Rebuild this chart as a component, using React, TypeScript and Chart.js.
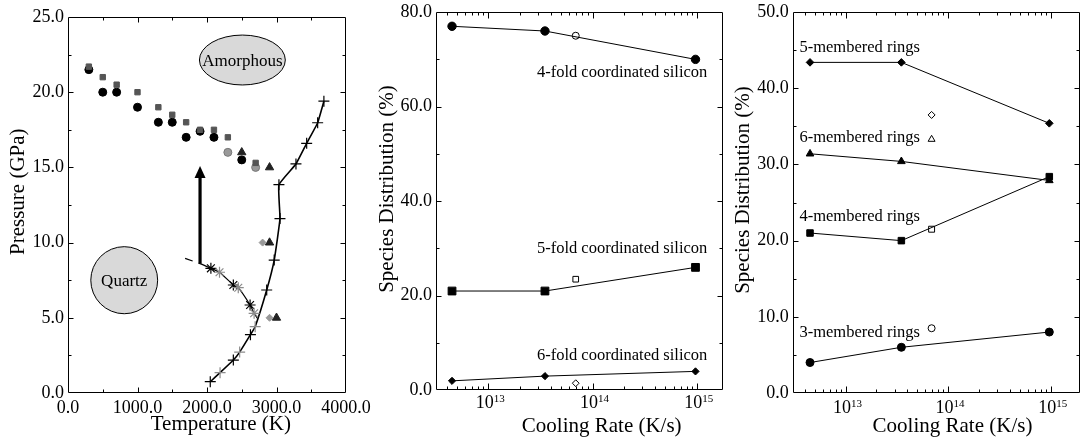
import React, { useEffect, useRef } from 'react';
import { Chart, registerables } from 'chart.js';
Chart.register(...registerables);

const W = 1086;
const H = 442;
const FONT = '"Liberation Serif", "Times New Roman", Times, serif';

// ---------------- Panel 1 data: Pressure (GPa) vs Temperature (K) ----------------
const p1BlackCircles = [[300, 21.5], [500, 20], [700, 20], [1000, 19], [1300, 18], [1500, 18], [1700, 17], [1900, 17.4], [2100, 17], [2500, 15.5]];
const p1GraySquares = [[300, 21.7], [500, 21], [700, 20.5], [1000, 20], [1300, 19], [1500, 18.5], [1700, 18], [1900, 17.5], [2100, 17.5], [2300, 17], [2700, 15.3]];
const p1GrayCircles = [[2300, 16], [2700, 15]];
const p1BlackTriangles = [[2500, 16], [2900, 15], [2900, 10], [3000, 5]];
const p1GrayDiamonds = [[2800, 10], [2900, 5]];
const p1MeltT = [2047, 2188, 2379, 2470, 2625, 2693, 2859, 2967, 3050, 3035, 3280, 3434, 3592, 3682];
const p1MeltP = [0.75, 1.35, 2.19, 2.72, 3.88, 4.41, 6.85, 8.84, 11.6, 13.85, 15.23, 16.6, 17.97, 19.4];
const p1MeltShade = ['k', 'g', 'k', 'g', 'k', 'g', 'k', 'k', 'k', 'k', 'k', 'k', 'k', 'k'];
const p1StarT = [1685, 1900, 2056, 2180, 2379, 2450, 2620, 2678, 2724];
const p1StarP = [8.95, 8.6, 8.29, 8.03, 7.18, 7.0, 5.85, 5.3, 4.97];
const p1StarShade = ['', '', 'k', 'g', 'k', 'g', 'k', 'g', ''];
const p1ArrowT = 1900;
const p1ArrowFromP = 8.6;
const p1ArrowToP = 15.1;
const p1Regions = [
  { label: 'Amorphous', T: 2509, P: 22.14, rT: 618, rP: 1.66 },
  { label: 'Quartz', T: 809, P: 7.5, rT: 481, rP: 2.23 },
];

// ---------------- Panel 2 data: coordination vs cooling rate ----------------
const coolingRates = [4.5e12, 3.5e13, 9.7e14];
const openRate = 6.9e13;
const fourFold = [77, 76, 70];
const fourFoldOpen = 75;
const fiveFold = [21, 21, 26];
const fiveFoldOpen = 23.5;
const sixFold = [2, 3, 4];
const sixFoldOpen = 1.5;
const p2Labels = ['4-fold coordinated silicon', '5-fold coordinated silicon', '6-fold coordinated silicon'];
const p2LabelRate = 2.93e13;
const p2LabelY = [66.2, 29.0, 6.5];

// ---------------- Panel 3 data: ring distribution vs cooling rate ----------------
const ring5 = [43.4, 43.4, 35.4];
const ring5Open = 36.5;
const ring6 = [31.4, 30.4, 27.9];
const ring6Open = 33.3;
const ring4 = [21, 20, 28.4];
const ring4Open = 21.5;
const ring3 = [4, 6, 8];
const ring3Open = 8.5;
const p3Labels = ['5-membered rings', '6-membered rings', '4-membered rings', '3-membered rings'];
const p3LabelRate = 3.55e12;
const p3LabelY = [44.7, 32.9, 22.6, 7.4];

const decadeTicks = [1e13, 1e14, 1e15];

const pairs = (a: number[][]) => a.map(([x, y]) => ({ x, y }));
const zip = (xs: number[], ys: number[]) => xs.map((x, i) => ({ x, y: ys[i] }));

const shade = (s: string) => (s === 'g' ? '#8c8c8c' : '#000');

function makeFrame(cfg: { xMajor?: number; yMajor: number; xLog?: boolean }) {
  return {
    id: 'frame',
    beforeDatasetsDraw(chart: any) {
      const { ctx, chartArea: a, scales } = chart;
      const L = Math.round(a.left) + 0.5;
      const R = Math.round(a.right) - 0.5;
      const T = Math.round(a.top) + 0.5;
      const B = Math.round(a.bottom) - 0.5;
      ctx.save();
      ctx.strokeStyle = '#000';
      ctx.lineWidth = 1;
      ctx.beginPath();
      ctx.rect(L, T, R - L, B - T);
      for (const t of scales.x.ticks) {
        const v = t.value;
        let major = false;
        if (cfg.xLog) {
          const e = Math.floor(Math.log10(v) + 1e-9);
          const m = v / Math.pow(10, e);
          if (Math.abs(m - Math.round(m)) > 1e-6) continue;
          major = Math.round(m) === 1;
        } else {
          const q = v / (cfg.xMajor as number);
          major = Math.abs(q - Math.round(q)) < 1e-6;
        }
        const px = Math.round(scales.x.getPixelForValue(v)) + 0.5;
        if (px <= L + 0.6 || px >= R - 0.6) continue;
        const len = major ? (cfg.xLog ? 6 : 5) : 3;
        ctx.moveTo(px, B); ctx.lineTo(px, B - len);
        ctx.moveTo(px, T); ctx.lineTo(px, T + len);
      }
      for (const t of scales.y.ticks) {
        const v = t.value;
        const q = v / cfg.yMajor;
        const major = Math.abs(q - Math.round(q)) < 1e-6;
        const py = Math.round(scales.y.getPixelForValue(v)) + 0.5;
        if (py <= T + 0.6 || py >= B - 0.6) continue;
        const len = major ? 5 : 3;
        ctx.moveTo(L, py); ctx.lineTo(L + len, py);
        ctx.moveTo(R, py); ctx.lineTo(R - len, py);
      }
      ctx.stroke();
      ctx.restore();
    },
  };
}

function makeDeco(draw: (chart: any) => void) {
  return { id: 'deco', afterDraw(chart: any) { draw(chart); } };
}

function drawTitles(ctx: CanvasRenderingContext2D, yTitle: string, yx: number, yy: number, xTitle: string, xx: number, xy: number) {
  ctx.save();
  ctx.fillStyle = '#000';
  ctx.font = `21px ${FONT}`;
  ctx.textAlign = 'center';
  ctx.textBaseline = 'alphabetic';
  ctx.fillText(xTitle, xx, xy);
  ctx.translate(yx, yy);
  ctx.rotate(-Math.PI / 2);
  ctx.fillText(yTitle, 0, 0);
  ctx.restore();
}

function drawDecadeLabels(chart: any, baselineOffset: number) {
  const { ctx, chartArea: a, scales } = chart;
  ctx.save();
  ctx.fillStyle = '#000';
  ctx.textBaseline = 'alphabetic';
  ctx.textAlign = 'left';
  for (const v of decadeTicks) {
    const px = scales.x.getPixelForValue(v);
    const exp = String(Math.round(Math.log10(v)));
    ctx.font = `18px ${FONT}`;
    const w1 = ctx.measureText('10').width;
    ctx.font = `11px ${FONT}`;
    const w2 = ctx.measureText(exp).width;
    const x0 = px - (w1 + w2) / 2 + 2;
    const by = a.bottom + baselineOffset;
    ctx.font = `18px ${FONT}`;
    ctx.fillText('10', x0, by);
    ctx.font = `11px ${FONT}`;
    ctx.fillText(exp, x0 + w1, by - 6.5);
  }
  ctx.restore();
}

const tickFont = { family: FONT, size: 18, lineHeight: 0.9 };
const xTickFont = { family: FONT, size: 18, lineHeight: 1.2 };
const hidden = { display: false, drawTicks: false };

function yAxis(min: number, max: number, step: number, major: number) {
  return {
    type: 'linear',
    min, max,
    afterFit: (s: any) => { s.width = 40; },
    grid: hidden,
    border: { display: false },
    ticks: {
      stepSize: step,
      autoSkip: false,
      padding: 4,
      color: '#000',
      font: tickFont,
      callback: (v: number) => (Math.abs(v / major - Math.round(v / major)) < 1e-6 ? v.toFixed(1) : ''),
    },
  };
}

function logXAxis(min: number, max: number) {
  return {
    type: 'logarithmic',
    min, max,
    afterFit: (s: any) => { s.height = 40; },
    grid: hidden,
    border: { display: false },
    ticks: { autoSkip: false, maxRotation: 0, callback: () => '', font: xTickFont },
  };
}

const baseOptions = (padding: any) => ({
  animation: false,
  responsive: false,
  devicePixelRatio: 1,
  layout: { padding },
  plugins: { legend: { display: false }, tooltip: { enabled: false } },
});

function marker(data: any[], style: string, r: number, fill: string, stroke = '#000', bw = 1) {
  return {
    data, showLine: false, pointStyle: style, pointRadius: r,
    pointBackgroundColor: fill, pointBorderColor: stroke, pointBorderWidth: bw,
  };
}

function line(data: any[], style: string, r: number) {
  return {
    data, showLine: true, borderColor: '#000', borderWidth: 1, tension: 0,
    pointStyle: style, pointRadius: r, pointBackgroundColor: '#000', pointBorderColor: '#000', pointBorderWidth: 1,
  };
}

function makeP1() {
  return {
    type: 'scatter',
    data: {
      datasets: [
        {
          data: zip(p1StarT, p1StarP), showLine: true, borderColor: '#000', borderWidth: 1.2, tension: 0.15,
          segment: { borderDash: (c: any) => (c.p0DataIndex === 0 ? [8, 6] : undefined) },
          pointStyle: 'star', pointRadius: p1StarShade.map((s) => (s ? 5.5 : 0)),
          pointBorderColor: p1StarShade.map(shade), pointBorderWidth: 1.2,
        },
        {
          data: zip(p1MeltT, p1MeltP), showLine: true, borderColor: '#000', borderWidth: 1.6, tension: 0.12,
          pointStyle: 'cross', pointRadius: 5.5,
          pointBorderColor: p1MeltShade.map(shade), pointBorderWidth: 1.2,
        },
        marker(pairs(p1GraySquares), 'rect', 3.8, '#555', '#555'),
        marker(pairs(p1BlackCircles), 'circle', 4, '#000'),
        marker(pairs(p1GrayCircles), 'circle', 4, '#999', '#777'),
        marker(pairs(p1GrayDiamonds), 'rectRot', 3.5, '#999', '#999'),
        marker(pairs(p1BlackTriangles), 'triangle', 4.8, '#222', '#222'),
      ],
    },
    options: {
      ...baseOptions({ left: 28, right: W - 346, top: 17, bottom: 9 }),
      scales: {
        x: {
          type: 'linear', min: 0, max: 4000,
          afterFit: (s: any) => { s.height = 40; },
          grid: hidden, border: { display: false },
          ticks: {
            stepSize: 500, autoSkip: false, maxRotation: 0, padding: 4, color: '#000', font: xTickFont,
            callback: (v: number) => (v % 1000 === 0 ? v.toFixed(1) : ''),
          },
        },
        y: yAxis(0, 25, 2.5, 5),
      },
    },
    plugins: [
      makeFrame({ xMajor: 1000, yMajor: 5 }),
      makeDeco((chart: any) => {
        const { ctx, scales: { x, y } } = chart;
        ctx.save();
        for (const e of p1Regions) {
          const cx = x.getPixelForValue(e.T);
          const cy = y.getPixelForValue(e.P);
          const rx = Math.abs(x.getPixelForValue(e.T + e.rT) - cx);
          const ry = Math.abs(y.getPixelForValue(e.P + e.rP) - cy);
          ctx.beginPath();
          ctx.ellipse(cx, cy, rx, ry, 0, 0, Math.PI * 2);
          ctx.fillStyle = '#d9d9d9';
          ctx.fill();
          ctx.lineWidth = 1;
          ctx.strokeStyle = '#000';
          ctx.stroke();
          ctx.fillStyle = '#000';
          ctx.font = `17px ${FONT}`;
          ctx.textAlign = 'center';
          ctx.textBaseline = 'alphabetic';
          ctx.fillText(e.label, cx, cy + 6);
        }
        // arrow
        const ax = x.getPixelForValue(p1ArrowT);
        const ay0 = y.getPixelForValue(p1ArrowFromP);
        const ay1 = y.getPixelForValue(p1ArrowToP);
        ctx.beginPath();
        ctx.lineWidth = 3.2;
        ctx.strokeStyle = '#000';
        ctx.moveTo(ax, ay0);
        ctx.lineTo(ax, ay1 + 10);
        ctx.stroke();
        ctx.beginPath();
        ctx.fillStyle = '#000';
        ctx.moveTo(ax, ay1);
        ctx.lineTo(ax - 5.5, ay1 + 12);
        ctx.lineTo(ax + 5.5, ay1 + 12);
        ctx.closePath();
        ctx.fill();
        ctx.restore();
        drawTitles(ctx, 'Pressure (GPa)', 23.5, 191.7, 'Temperature (K)', 220.8, 430);
      }),
    ],
  };
}

function makeP2() {
  return {
    type: 'scatter',
    data: {
      datasets: [
        line(zip(coolingRates, fourFold), 'circle', 4.2),
        line(zip(coolingRates, fiveFold), 'rect', 5.5),
        line(zip(coolingRates, sixFold), 'rectRot', 3.6),
        marker([{ x: openRate, y: fourFoldOpen }], 'circle', 3.5, '#fff'),
        marker([{ x: openRate, y: fiveFoldOpen }], 'rect', 4, '#fff'),
        marker([{ x: openRate, y: sixFoldOpen }], 'rectRot', 3.4, '#fff'),
      ],
    },
    options: {
      ...baseOptions({ left: 396, right: W - 723, top: 11, bottom: 442 - 390.3 - 40 }),
      scales: { x: logXAxis(3.16e12, 1.78e15), y: yAxis(0, 80, 10, 20) },
    },
    plugins: [
      makeFrame({ xLog: true, yMajor: 20 }),
      makeDeco((chart: any) => {
        const { ctx, scales: { x, y } } = chart;
        ctx.save();
        ctx.fillStyle = '#000';
        ctx.font = `16.5px ${FONT}`;
        ctx.textAlign = 'left';
        ctx.textBaseline = 'alphabetic';
        p2Labels.forEach((s, i) => ctx.fillText(s, x.getPixelForValue(p2LabelRate), y.getPixelForValue(p2LabelY[i])));
        ctx.restore();
        drawDecadeLabels(chart, 18);
        drawTitles(ctx, 'Species Distribution (%)', 393.3, 189, 'Cooling Rate (K/s)', 601.7, 432);
      }),
    ],
  };
}

function makeP3() {
  return {
    type: 'scatter',
    data: {
      datasets: [
        line(zip(coolingRates, ring5), 'rectRot', 3.8),
        line(zip(coolingRates, ring6), 'triangle', 4.4),
        line(zip(coolingRates, ring4), 'rect', 4.6),
        line(zip(coolingRates, ring3), 'circle', 4),
        marker([{ x: openRate, y: ring5Open }], 'rectRot', 3.5, '#fff'),
        marker([{ x: openRate, y: ring6Open }], 'triangle', 4, '#fff'),
        marker([{ x: openRate, y: ring4Open }], 'rect', 4.2, '#fff'),
        marker([{ x: openRate, y: ring3Open }], 'circle', 3.5, '#fff'),
      ],
    },
    options: {
      ...baseOptions({ left: 752.7, right: 2, top: 9, bottom: 9 }),
      scales: { x: logXAxis(3.05e12, 1.95e15), y: yAxis(0, 50, 5, 10) },
    },
    plugins: [
      makeFrame({ xLog: true, yMajor: 10 }),
      makeDeco((chart: any) => {
        const { ctx, scales: { x, y } } = chart;
        ctx.save();
        ctx.fillStyle = '#000';
        ctx.font = `16.5px ${FONT}`;
        ctx.textAlign = 'left';
        ctx.textBaseline = 'alphabetic';
        p3Labels.forEach((s, i) => ctx.fillText(s, x.getPixelForValue(p3LabelRate), y.getPixelForValue(p3LabelY[i])));
        ctx.restore();
        drawDecadeLabels(chart, 20.3);
        drawTitles(ctx, 'Species Distribution (%)', 749, 190, 'Cooling Rate (K/s)', 952.5, 432);
      }),
    ],
  };
}

function ChartCanvas({ make }: { make: () => any }) {
  const ref = useRef<HTMLCanvasElement>(null);
  useEffect(() => {
    const chart = new Chart(ref.current as HTMLCanvasElement, make());
    return () => chart.destroy();
  }, []);
  return (
    <canvas
      ref={ref}
      width={W}
      height={H}
      style={{ position: 'absolute', left: 0, top: 0, width: W, height: H }}
    />
  );
}

export default function App() {
  return (
    <div style={{ position: 'fixed', left: 0, top: 0, width: W, height: H, background: '#fff', overflow: 'hidden' }}>
      <ChartCanvas make={makeP1} />
      <ChartCanvas make={makeP2} />
      <ChartCanvas make={makeP3} />
    </div>
  );
}
